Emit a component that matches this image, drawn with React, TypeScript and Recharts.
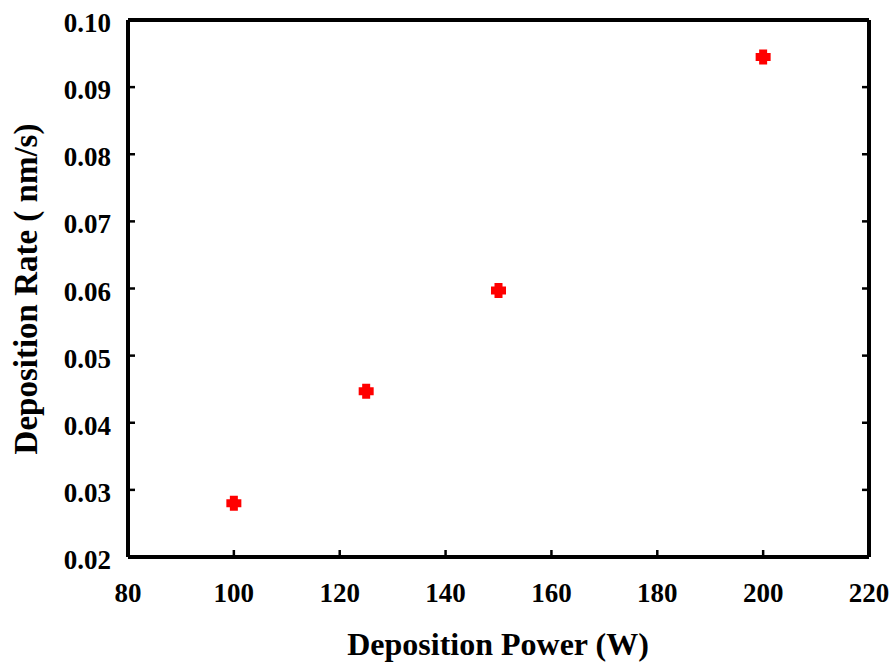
import React from 'react'
import { ScatterChart, Scatter, XAxis, YAxis } from 'recharts'

const powers = [100, 125, 150, 200]
const rates = [0.028, 0.0447, 0.0597, 0.0945]
const xTicks = [80, 100, 120, 140, 160, 180, 200, 220]
const yTicks = [0.02, 0.03, 0.04, 0.05, 0.06, 0.07, 0.08, 0.09, 0.1]

const data = powers.map((p, i) => ({ power: p, rate: rates[i] }))

const FONT = '"Liberation Serif", "Times New Roman", serif'
const TICK_LEN = 7

const axisLine = { stroke: '#000', strokeWidth: 4 }

function BottomTick(props: any) {
  const { x, y, payload } = props
  return (
    <g>
      <line x1={x} x2={x} y1={y} y2={y - TICK_LEN} stroke="#000" strokeWidth={2.5} />
      <text x={x} y={y + 45} textAnchor="middle" fontFamily={FONT} fontWeight="bold" fontSize={27} fill="#000">
        {payload.value}
      </text>
    </g>
  )
}

function TopTick(props: any) {
  const { x, y } = props
  return <line x1={x} x2={x} y1={y} y2={y + TICK_LEN} stroke="#000" strokeWidth={2.5} />
}

function LeftTick(props: any) {
  const { x, y, payload } = props
  return (
    <g>
      <line x1={x} x2={x + TICK_LEN} y1={y} y2={y} stroke="#000" strokeWidth={2.5} />
      <text x={x - 17} y={y + 12} textAnchor="end" fontFamily={FONT} fontWeight="bold" fontSize={27} fill="#000">
        {payload.value.toFixed(2)}
      </text>
    </g>
  )
}

function RightTick(props: any) {
  const { x, y } = props
  return <line x1={x} x2={x - TICK_LEN} y1={y} y2={y} stroke="#000" strokeWidth={2.5} />
}

function CrossMarker(props: any) {
  const { cx, cy } = props
  const a = 7.5
  const b = 4
  const d = `M${cx - b},${cy - a} H${cx + b} V${cy - b} H${cx + a} V${cy + b} H${cx + b} V${cy + a} H${cx - b} V${cy + b} H${cx - a} V${cy - b} H${cx - b} Z`
  return <path d={d} fill="#ff0000" />
}

export default function App() {
  return (
    <div style={{ position: 'absolute', left: 0, top: 0, width: 896, height: 668, background: '#fff' }}>
      <ScatterChart width={896} height={668} margin={{ top: 19, right: 26, bottom: 0, left: 0 }}>
        <XAxis
          xAxisId="bottom"
          dataKey="power"
          type="number"
          domain={[80, 220]}
          ticks={xTicks}
          allowDataOverflow
          height={111}
          axisLine={axisLine}
          tickLine={false}
          tickSize={0}
          tickMargin={0}
          tick={<BottomTick />}
          interval={0}
        />
        <XAxis
          xAxisId="top"
          orientation="top"
          type="number"
          domain={[80, 220]}
          ticks={xTicks}
          allowDataOverflow
          height={1}
          axisLine={axisLine}
          tickLine={false}
          tickSize={0}
          tickMargin={0}
          tick={<TopTick />}
          interval={0}
        />
        <YAxis
          yAxisId="left"
          dataKey="rate"
          type="number"
          domain={[0.02, 0.1]}
          ticks={yTicks}
          allowDataOverflow
          width={128}
          axisLine={axisLine}
          tickLine={false}
          tickSize={0}
          tickMargin={0}
          tick={<LeftTick />}
          interval={0}
        />
        <YAxis
          yAxisId="right"
          orientation="right"
          type="number"
          domain={[0.02, 0.1]}
          ticks={yTicks}
          allowDataOverflow
          width={1}
          axisLine={axisLine}
          tickLine={false}
          tickSize={0}
          tickMargin={0}
          tick={<RightTick />}
          interval={0}
        />
        <Scatter
          xAxisId="bottom"
          yAxisId="left"
          data={data}
          shape={<CrossMarker />}
          isAnimationActive={false}
        />
        <text
          x={498}
          y={655}
          textAnchor="middle"
          fontFamily={FONT}
          fontWeight="bold"
          fontSize={32}
          fill="#000"
        >
          Deposition Power (W)
        </text>
        <text
          x={37}
          y={289}
          textAnchor="middle"
          transform="rotate(-90, 37, 289)"
          fontFamily={FONT}
          fontWeight="bold"
          fontSize={33}
          fill="#000"
        >
          Deposition Rate ( nm/s)
        </text>
      </ScatterChart>
    </div>
  )
}
